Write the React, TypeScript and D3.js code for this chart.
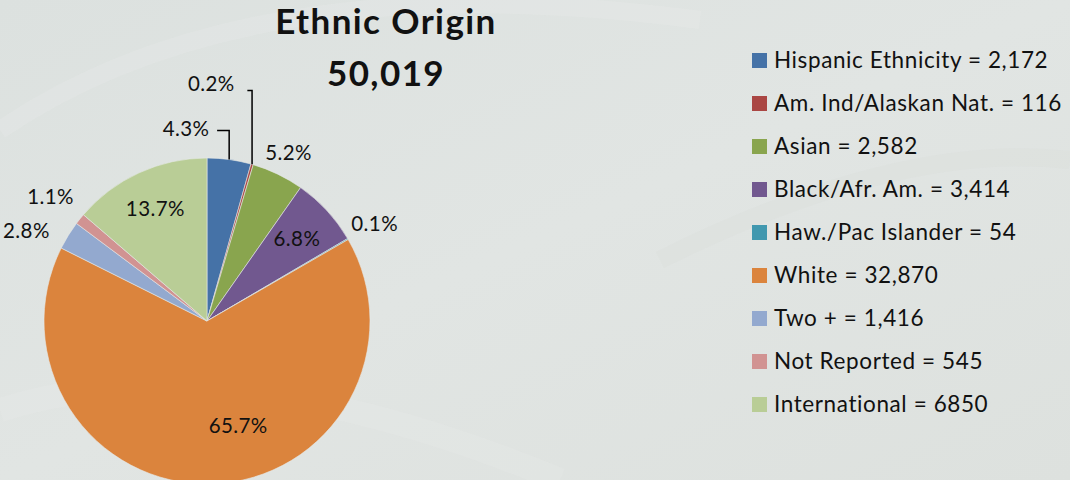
import React from "react";
import * as d3 from "d3";

const categories = [
  "Hispanic Ethnicity",
  "Am. Ind/Alaskan Nat.",
  "Asian",
  "Black/Afr. Am.",
  "Haw./Pac Islander",
  "White",
  "Two +",
  "Not Reported",
  "International",
];
const values = [2172, 116, 2582, 3414, 54, 32870, 1416, 545, 6850];
const legendValueText = ["2,172", "116", "2,582", "3,414", "54", "32,870", "1,416", "545", "6850"];
const colors = ["#4572A7", "#AA4643", "#89A54E", "#71588F", "#4198AF", "#DB843D", "#93A9CF", "#D19392", "#B9CD96"];
const titleLines = ["Ethnic Origin", "50,019"];

// label placement: radius factor (relative to outer radius) and angle nudge in degrees
const labelRadius = [1.19, 1.46, 1.15, 0.75, 1.19, 0.665, 1.24, 1.23, 0.76];
const labelAngleNudge = [-14, -15, 0, 0, 0, -15, -5, 0, 0];
const leaderTopY = [-190.5, -230.5]; // leader elbow heights relative to centre for first two slices

const W = 1070;
const H = 480;
const cx = 207;
const cy = 321;
const R = 163;

export default function App() {
  const total = d3.sum(values);
  const pie = d3
    .pie<number>()
    .sort(null)
    .value((d) => d)
    .startAngle(0)
    .endAngle(2 * Math.PI);
  const arcs = pie(values);
  const arcGen = d3.arc<d3.PieArcDatum<number>>().innerRadius(0).outerRadius(R);
  const fmt = d3.format(".1%");
  const font = "Lato, 'Open Sans', sans-serif";

  const legendY = d3.scalePoint<number>().domain(d3.range(categories.length)).range([53, 397]);

  return (
    <svg width={W} height={H} style={{ position: "absolute", left: 0, top: 0, display: "block" }}>
      <defs>
        <linearGradient id="bg" x1="0" y1="0" x2="1" y2="1">
          <stop offset="0" stopColor="#DCE1DF" />
          <stop offset="0.5" stopColor="#E1E5E3" />
          <stop offset="1" stopColor="#DDE1DE" />
        </linearGradient>
      </defs>
      <rect x={0} y={0} width={W} height={H} fill="url(#bg)" />
      {/* faint watermark swooshes */}
      <path d="M 0 130 Q 250 -40 700 20" fill="none" stroke="#EEF1EF" strokeWidth={18} opacity={0.2} />
      <path d="M 0 410 Q 220 340 560 480" fill="none" stroke="#EEF1EF" strokeWidth={24} opacity={0.18} />
      <path d="M 660 260 Q 900 140 1070 160" fill="none" stroke="#D6DAD7" strokeWidth={18} opacity={0.25} />

      <g transform={`translate(${cx},${cy})`}>
        {arcs.map((a, i) => (
          <path key={i} d={arcGen(a) || ""} fill={colors[i]} stroke="#E6EAE8" strokeWidth={0.6} />
        ))}
        {arcs.map((a, i) => {
          const mid = (a.startAngle + a.endAngle) / 2 + (labelAngleNudge[i] * Math.PI) / 180;
          const r = R * labelRadius[i];
          const x = Math.sin(mid) * r;
          const y = -Math.cos(mid) * r;
          const text = fmt(values[i] / total);
          const elems: React.ReactNode[] = [];
          if (i < 2) {
            const m = (a.startAngle + a.endAngle) / 2;
            const px = Math.sin(m) * R;
            const py = -Math.cos(m) * R;
            const ty = leaderTopY[i];
            const endX = i === 0 ? x + 31 : x + 36;
            elems.push(
              <polyline
                key={"l" + i}
                points={`${endX},${ty} ${px},${ty} ${px},${py}`}
                fill="none"
                stroke="#000"
                strokeWidth={1.5}
              />
            );
          }
          elems.push(
            <text
              key={"t" + i}
              x={x}
              y={y}
              textAnchor="middle"
              dominantBaseline="central"
              fontFamily={font}
              fontSize={20.5}
              letterSpacing={0.4}
              fill="#111"
            >
              {text}
            </text>
          );
          return <g key={i}>{elems}</g>;
        })}
      </g>

      {titleLines.map((t, i) => (
        <text
          key={i}
          x={386}
          y={34 + i * 52}
          textAnchor="middle"
          fontFamily={font}
          fontWeight={700}
          fontSize={35}
          letterSpacing={1.4}
          fill="#111"
        >
          {t}
        </text>
      ))}

      {categories.map((c, i) => (
        <g key={c} transform={`translate(752,${legendY(i)})`}>
          <rect x={0} y={0} width={15} height={15} fill={colors[i]} />
          <text x={22} y={15} fontFamily={font} fontSize={22.5} letterSpacing={0.6} fill="#111">
            {`${c} = ${legendValueText[i]}`}
          </text>
        </g>
      ))}
    </svg>
  );
}
